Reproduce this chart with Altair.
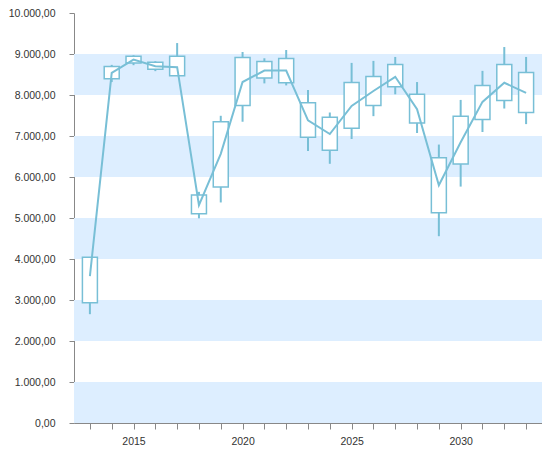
import altair as alt
import pandas as pd

years = list(range(2013, 2034))
box_low = [2935, 8396, 8783, 8630, 8469, 5105, 5759, 7743, 8412, 8299, 6968,
           6654, 7186, 7743, 8202, 7315, 5129, 6315, 7404, 7864, 7573]
box_high = [4040, 8694, 8945, 8800, 8945, 5558, 7348, 8912, 8815, 8888, 7808,
            7460, 8307, 8452, 8742, 8017, 6468, 7484, 8234, 8742, 8549]
wick_low = [2654, 8316, 8727, 8582, 8469, 4992, 5379, 7348, 8283, 8234, 6637,
            6322, 6927, 7484, 8017, 7073, 4556, 5766, 7097, 7670, 7290]
wick_high = [4040, 8735, 8969, 8824, 9267, 5638, 7493, 9049, 8896, 9097, 8122,
             7573, 8783, 8832, 8928, 8316, 6791, 7880, 8589, 9170, 8928]
avg = [3581, 8541, 8863, 8703, 8679, 5316, 6565, 8316, 8597, 8597, 7380,
       7048, 7735, 8098, 8444, 7653, 5799, 6847, 7832, 8299, 8050]

band_lo = [0, 2000, 4000, 6000, 8000]
band_hi = [1000, 3000, 5000, 7000, 9000]

df = pd.DataFrame({"year": years, "bl": box_low, "bh": box_high,
                   "wl": wick_low, "wh": wick_high, "avg": avg})
bands = pd.DataFrame({"lo": band_lo, "hi": band_hi})

C = "#78bfd6"
FONT = "Liberation Sans"

xscale = alt.Scale(domain=[2012.5, 2033.5], nice=False, zero=False)
yscale = alt.Scale(domain=[0, 10000], nice=False)

xaxis = alt.Axis(values=years, format="d", grid=False, title=None,
                 labelExpr="datum.value % 5 == 0 ? datum.label : ''",
                 labelOverlap=False, labelFlush=False, tickCount=21,
                 domainColor="#888888", tickColor="#888888", tickSize=6,
                 labelColor="#333333", labelFont=FONT, labelFontSize=10.5,
                 labelPadding=7)
yaxis = alt.Axis(values=list(range(0, 10001, 1000)), grid=False, title=None,
                 labelExpr="replace(replace(replace(format(datum.value, ',.2f'), ',', '_'), '.', ','), '_', '.')",
                 labelOverlap=False, labelFlush=False,
                 domainColor="#888888", tickColor="#888888", tickSize=5,
                 labelColor="#333333", labelFont=FONT, labelFontSize=10.5,
                 labelPadding=14)

X = alt.X("year:Q", scale=xscale, axis=xaxis)

band_layer = alt.Chart(bands).mark_rect(color="#ddeeff").encode(
    x=alt.value(0), x2=alt.value("width"),
    y=alt.Y("lo:Q", scale=yscale, axis=yaxis), y2="hi:Q")

wick = alt.Chart(df).mark_rule(color=C, strokeWidth=2).encode(
    x=X, y=alt.Y("wl:Q", scale=yscale, axis=yaxis), y2="wh:Q")

box = alt.Chart(df).mark_bar(fill="white", stroke=C, strokeWidth=1.5, size=15).encode(
    x=X, y=alt.Y("bl:Q", scale=yscale, axis=yaxis), y2="bh:Q")

line = alt.Chart(df).mark_line(color=C, strokeWidth=2).encode(
    x=X, y=alt.Y("avg:Q", scale=yscale, axis=yaxis))

chart = alt.layer(band_layer, wick, box, line).properties(
    width=468, height=410, background="white", padding=0
).configure_view(stroke=None)

chart.save("out.html", embed_options={"renderer": "svg", "actions": False})
